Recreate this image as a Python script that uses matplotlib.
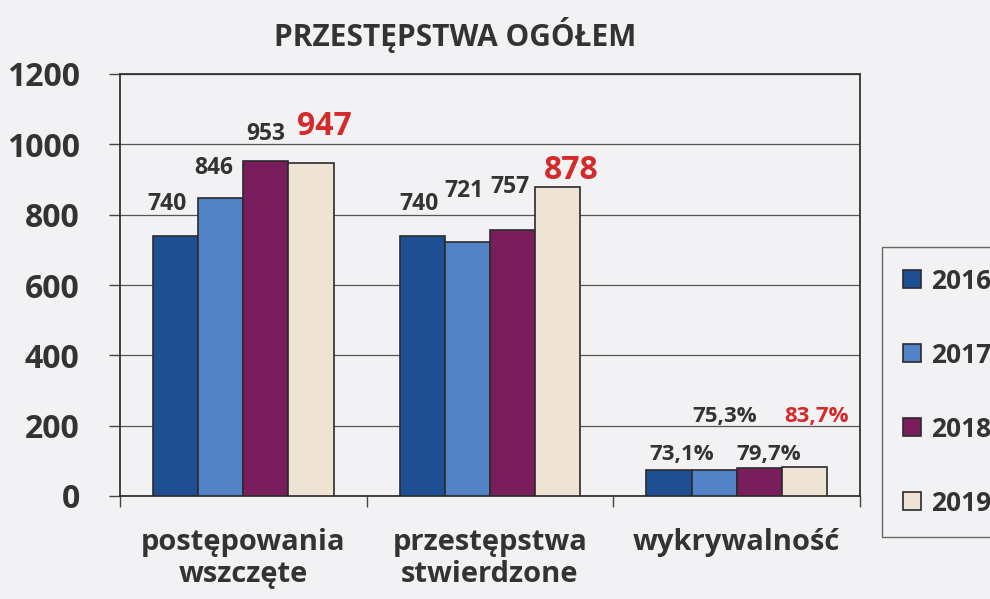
import numpy as np
import matplotlib.pyplot as plt

categories = ["postępowania\nwszczęte", "przestępstwa\nstwierdzone", "wykrywalność"]
years = ["2016", "2017", "2018", "2019"]
values = {
    "2016": [740, 740, 73.1],
    "2017": [846, 721, 75.3],
    "2018": [953, 757, 79.7],
    "2019": [947, 878, 83.7],
}
labels = {
    "2016": ["740", "740", "73,1%"],
    "2017": ["846", "721", "75,3%"],
    "2018": ["953", "757", "79,7%"],
    "2019": ["947", "878", "83,7%"],
}
colors = ["#1d4f92", "#5283c6", "#7a1d5c", "#efe4d4"]
# label offsets (px) from top-centre of each bar, per year x category
label_dx = {"2016": [-9, -3, 13], "2017": [-7, -3, 11], "2018": [0, -3, 9], "2019": [13, 14, 12]}
label_dy = {"2016": [20, 20, 5], "2017": [18, 39, 43], "2018": [15, 31, 3], "2019": [20, 0, 40]}

plt.rcParams["font.family"] = ["Open Sans", "DejaVu Sans"]
plt.rcParams["font.weight"] = "bold"

bg = "#f2f2f4"
fig = plt.figure(figsize=(9.9, 5.99), dpi=100, facecolor=bg)
ax = fig.add_axes([120 / 990, 1 - 496 / 599, 740 / 990, 422 / 599])
ax.set_facecolor(bg)

x = np.arange(len(categories))
w = 0.183
for i, yr in enumerate(years):
    pos = x + (i - 1.5) * w
    ax.bar(pos, values[yr], width=w, color=colors[i], edgecolor="#2b2b2b",
           linewidth=1.2, label=yr, zorder=3)
    red = yr == "2019"
    for j in range(len(categories)):
        if j < 2:
            fs = 23 if red else 16.5
        else:
            fs = 16
        ax.annotate(labels[yr][j], (pos[j], values[yr][j]),
                    xytext=(label_dx[yr][j] * 0.72, label_dy[yr][j] * 0.72),
                    textcoords="offset points", ha="center", va="bottom",
                    fontsize=fs, fontweight="bold",
                    color="#d42a2a" if red else "#333333", zorder=4)

ax.set_xlim(-0.5, 2.5)
ax.set_ylim(0, 1200)
ax.set_yticks(range(0, 1201, 200))
ax.yaxis.grid(True, color="#555555", linewidth=0.9, zorder=0)
ax.tick_params(axis="y", labelsize=23, length=8, width=1, color="#444444", pad=21, labelcolor="#333333")
ax.set_xticks(x)
ax.set_xticklabels(categories, fontsize=21, color="#333333", linespacing=1.12)
ax.tick_params(axis="x", length=0, pad=23)
ax.set_xticks([-0.5, 0.5, 1.5, 2.5], minor=True)
ax.tick_params(axis="x", which="minor", length=8, width=1, color="#444444")
for s in ax.spines.values():
    s.set_color("#333333")
    s.set_linewidth(1.3)

fig.text(455 / 990, 1 - 35 / 599, "PRZESTĘPSTWA OGÓŁEM", ha="center", va="center",
         fontsize=21.5, fontweight="bold", color="#333333")

leg = fig.legend(loc="upper left", bbox_to_anchor=(882 / 990, 1 - 247 / 599),
                 fontsize=19, frameon=True, fancybox=False, edgecolor="#444444",
                 facecolor=bg, labelspacing=1.78, handlelength=0.68, handleheight=0.68,
                 handletextpad=0.38, borderpad=0.78, borderaxespad=0)
for t in leg.get_texts():
    t.set_color("#333333")

fig.savefig("out.png", dpi=100, facecolor=bg)
